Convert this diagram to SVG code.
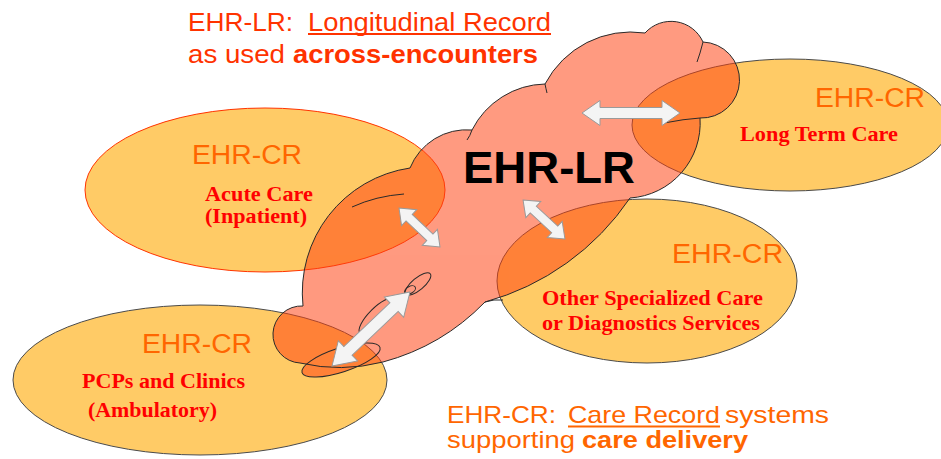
<svg xmlns="http://www.w3.org/2000/svg" width="941" height="459" viewBox="0 0 941 459">
<style>
.care{fill:#FFCB66;stroke:#4a4a4a;stroke-width:1}
.acute{stroke:#FF3300}
.cloudfill{fill:#FF400F}
.cloudline{fill:none;stroke:#2a2a2a;stroke-width:1}
.arrow{fill:#F4F4F4;stroke:#9A9A9A;stroke-width:1}
.title{font-family:"Liberation Sans",Arial,sans-serif;font-size:26px;fill:#FF3300}
.sub{font-family:"Liberation Sans",Arial,sans-serif;font-size:24px;fill:#FF6600}
.cr{font-family:"Liberation Sans",Arial,sans-serif;font-size:27px;fill:#FF6600}
.lbl{font-family:"Liberation Serif","Times New Roman",serif;font-size:21px;font-weight:bold;fill:#FF0000}
.b{font-weight:bold}
</style>
<defs>
<path id="cloudShape" d="M303,306 A126,126 0 0 1 410,168 A61,61 0 0 1 472,130 A84,84 0 0 1 545,84 A97,97 0 0 1 645,33 A35,35 0 0 1 703,42 A38,38 0 0 1 700,118 A75,75 0 0 1 630,198 A257,257 0 0 1 485,302 A223,223 0 0 1 383,362 A175,175 0 0 1 300,363 A28.5,28.5 0 0 1 303,306 Z"/>
</defs>

<g id="acute-care">
<ellipse class="care acute" cx="265" cy="190" rx="180" ry="82"/>
<text class="cr" x="192" y="164" textLength="110" lengthAdjust="spacingAndGlyphs">EHR-CR</text>
<text class="lbl" x="205" y="201" textLength="108" lengthAdjust="spacingAndGlyphs">Acute Care</text>
<text class="lbl" x="205" y="223" textLength="102" lengthAdjust="spacingAndGlyphs">(Inpatient)</text>
</g>

<g id="long-term-care">
<ellipse class="care" cx="790" cy="125" rx="158" ry="66"/>
<text class="cr" x="815" y="107" textLength="110" lengthAdjust="spacingAndGlyphs">EHR-CR</text>
<text class="lbl" x="740" y="141" textLength="158" lengthAdjust="spacingAndGlyphs">Long Term Care</text>
</g>

<g id="specialized-care">
<ellipse class="care" cx="647" cy="281" rx="150" ry="82"/>
<text class="cr" x="672" y="263" textLength="111" lengthAdjust="spacingAndGlyphs">EHR-CR</text>
<text class="lbl" x="542" y="305" textLength="221" lengthAdjust="spacingAndGlyphs">Other Specialized Care</text>
<text class="lbl" x="542" y="330" textLength="218" lengthAdjust="spacingAndGlyphs">or Diagnostics Services</text>
</g>

<g id="pcp-clinics">
<ellipse class="care" cx="200" cy="380" rx="187" ry="75"/>
<text class="cr" x="142" y="353" textLength="110" lengthAdjust="spacingAndGlyphs">EHR-CR</text>
<text class="lbl" x="82" y="388" textLength="163" lengthAdjust="spacingAndGlyphs">PCPs and Clinics</text>
<text class="lbl" x="88" y="417" textLength="129" lengthAdjust="spacingAndGlyphs">(Ambulatory)</text>
</g>

<g id="ehr-lr">
<g class="cloudfill" opacity="0.53">
<use href="#cloudShape"/>
<ellipse cx="341" cy="360" rx="41" ry="12" transform="rotate(-18 341 360)"/>
</g>
<use href="#cloudShape" class="cloudline"/>
<g class="cloudline">
<ellipse cx="341" cy="360" rx="41" ry="12" transform="rotate(-18 341 360)"/>
<ellipse cx="377" cy="316" rx="24" ry="8" transform="rotate(-45 377 316)"/>
<ellipse cx="418" cy="284" rx="16" ry="6" transform="rotate(-40 418 284)"/>
<ellipse cx="410" cy="290" rx="6" ry="3.5" transform="rotate(-30 410 290)"/>
<path d="M703,42 Q700,54 697,62 M545,84 Q546,89 547,93 M352,207 Q376,196 404,194 M485,302 Q494,299 503,300 M700,118 Q684,119 664,123 M472,130 Q470,136 467,140"/>
</g>
<text x="463" y="183" font-family="Liberation Sans, Arial, sans-serif" font-size="44" font-weight="bold" fill="#000" textLength="172" lengthAdjust="spacingAndGlyphs">EHR-LR</text>
</g>

<g id="connectors">
<polygon class="arrow" transform="translate(631,113)" points="-49,0 -31,-12.5 -31,-5.5 31,-5.5 31,-12.5 49,0 31,12.5 31,5.5 -31,5.5 -31,12.5"/>
<polygon class="arrow" transform="translate(419.5,227.5) rotate(43.6)" points="-28.3,0 -14.3,-11 -14.3,-4.5 14.3,-4.5 14.3,-11 28.3,0 14.3,11 14.3,4.5 -14.3,4.5 -14.3,11"/>
<polygon class="arrow" transform="translate(544,219.5) rotate(42.9)" points="-28.6,0 -14.6,-11 -14.6,-4.5 14.6,-4.5 14.6,-11 28.6,0 14.6,11 14.6,4.5 -14.6,4.5 -14.6,11"/>
<polygon class="arrow" transform="translate(371,329) rotate(-43.5)" points="-53.75,0 -31.75,-14 -31.75,-6 31.75,-6 31.75,-14 53.75,0 31.75,14 31.75,6 -31.75,6 -31.75,14"/>
</g>

<g id="title-lr">
<text class="title" x="188" y="31" textLength="105" lengthAdjust="spacingAndGlyphs">EHR-LR:</text>
<text class="title" x="308" y="31" textLength="243" lengthAdjust="spacingAndGlyphs">Longitudinal Record</text>
<line x1="308" y1="34" x2="551" y2="34" stroke="#FF3300" stroke-width="1.8"/>
<text class="title" x="188" y="63" textLength="97" lengthAdjust="spacingAndGlyphs">as used</text>
<text class="title b" x="293" y="63" textLength="245" lengthAdjust="spacingAndGlyphs">across-encounters</text>
</g>

<g id="title-cr">
<text class="sub" x="447" y="423" textLength="109" lengthAdjust="spacingAndGlyphs">EHR-CR:</text>
<text class="sub" x="568" y="423" textLength="152" lengthAdjust="spacingAndGlyphs">Care Record</text>
<line x1="568" y1="426.5" x2="720" y2="426.5" stroke="#FF6600" stroke-width="1.8"/>
<text class="sub" x="725" y="423" textLength="104" lengthAdjust="spacingAndGlyphs">systems</text>
<text class="sub" x="447" y="448" textLength="128" lengthAdjust="spacingAndGlyphs">supporting</text>
<text class="sub b" x="582" y="448" textLength="166" lengthAdjust="spacingAndGlyphs">care delivery</text>
</g>
</svg>
